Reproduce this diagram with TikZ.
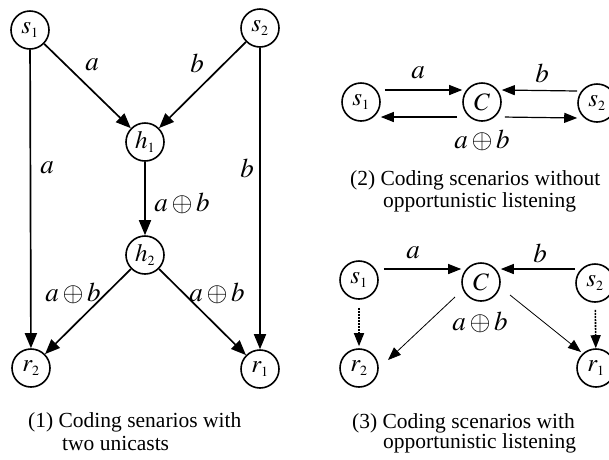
\documentclass[tikz,border=0pt]{standalone}
\usepackage{mathptmx}
\usepackage{fontspec}
\setmainfont{Liberation Serif}
\usetikzlibrary{arrows.meta}
% small subscripts inside the circles
\DeclareMathSizes{25}{25}{14}{11}
\DeclareMathSizes{27}{27}{16}{12}

\begin{document}
\begin{tikzpicture}[x=1pt,y=-1pt,
		vertex/.style={
			draw,
			circle,
			line width=1.6pt,
			minimum size=38pt,
			inner sep=0pt,
			font=\fontsize{25}{25}\selectfont
		},
		flow/.style={-{Triangle[length=15pt,width=12pt]}, line width=1.7pt},
		link/.style={-{Triangle[length=13pt,width=10pt]}, line width=1.2pt},
		hear/.style={-{Triangle[length=13pt,width=10pt]}, line width=1.6pt, dash pattern=on 2pt off 1pt},
		lbl/.style={font=\fontsize{27}{27}\selectfont, inner sep=0pt},
		capline/.style={font=\fontsize{21.5}{23}\selectfont, anchor=base west, inner sep=0pt}]
		\useasboundingbox (0,0) rectangle (609,459);
		
		% (1) two unicasts through h1, h2
		\node[vertex] (s1) at (30,30) {$s_1$};
		\node[vertex] (s2) at (260,28) {$s_2$};
		\node[vertex] (h1) at (145,142) {$h_1$};
		\node[vertex] (h2) at (145,255) {$h_2$};
		\node[vertex] (r2) at (31,368) {$r_2$};
		\node[vertex] (r1) at (260,369) {$r_1$};
		
		\draw[flow] (s1) -- (h1);
		\draw[flow] (s2) -- (h1);
		\draw[flow] (h1) -- (h2);
		\draw[flow] (h2) -- (r2);
		\draw[flow] (h2) -- (r1);
		\draw[flow] (s1) -- (r2);
		\draw[flow] (s2) -- (r1);
		
		\node[lbl] (la1) at (92,65) {$a$};
		\node[lbl] (lb1) at (197,63) {$b$};
		\node[lbl] (la2) at (47,168) {$a$};
		\node[lbl] (lb2) at (247,168) {$b$};
		\node[lbl] (lx1) at (182,203) {$a\oplus b$};
		\node[lbl] (lx2) at (73,293) {$a\oplus b$};
		\node[lbl] (lx3) at (217,293) {$a\oplus b$};
		
		\node[capline] (cap1a) at (28,427) {(1) Coding senarios with};
		\node[capline] (cap1b) at (62,450) {two unicasts};
		
		% (2) relay C, no overhearing
		\node[vertex] (ts1) at (361,102) {$s_1$};
		\node[vertex] (tc) at (482,102) {$C$};
		\node[vertex] (ts2) at (597,103) {$s_2$};
		
		\draw[link, shorten <=4pt] ([yshift=12pt]ts1.east) -- ([yshift=12pt]tc.west);
		\draw[link] ([yshift=12pt]ts2.west) -- ([yshift=12pt]tc.east);
		\draw[link, shorten <=5pt] ([yshift=-15pt]tc.west) -- ([yshift=-15pt]ts1.east);
		\draw[link, shorten <=3pt] ([yshift=-15pt]tc.east) -- ([yshift=-15pt]ts2.west);
		
		\node[lbl] (ta) at (418,73) {$a$};
		\node[lbl] (tb) at (542,73) {$b$};
		\node[lbl] (tx) at (482,140) {$a\oplus b$};
		
		\node[capline] (cap2a) at (350,185) {(2) Coding scenarios without};
		\node[capline] (cap2b) at (383,207) {opportunistic listening};
		
		% (3) relay C, receivers overhear the sources
		\node[vertex] (bs1) at (359,280) {$s_1$};
		\node[vertex] (bc) at (481,282) {$C$};
		\node[vertex] (bs2) at (595,283) {$s_2$};
		\node[vertex] (br2) at (359,368) {$r_2$};
		\node[vertex] (br1) at (596,368) {$r_1$};
		
		\draw[link, shorten <=5pt] ([yshift=11pt]bs1.east) -- ([yshift=13pt]bc.west);
		\draw[link] ([yshift=14pt]bs2.west) -- ([yshift=13pt]bc.east);
		\draw[link, line width=0.8pt] ([shift={(-26,15)}]bc.center) -- ([shift={(29,-8)}]br2.center);
		\draw[link, line width=0.8pt] ([shift={(29,13)}]bc.center) -- ([shift={(-15,-16)}]br1.center);
		\draw[hear, shorten <=8pt, shorten >=2pt] (bs1) -- (br2);
		\draw[hear, shorten <=7pt, shorten >=0pt] (bs2) -- (br1);
		
		\node[lbl] (ba) at (413,253) {$a$};
		\node[lbl] (bb) at (540,253) {$b$};
		\node[lbl] (bx) at (480,322) {$a\oplus b$};
		
		\node[capline] (cap3a) at (352,428) {(3) Coding scenarios with};
		\node[capline] (cap3b) at (383,448) {opportunistic listening};
	\end{tikzpicture}
\end{document}
